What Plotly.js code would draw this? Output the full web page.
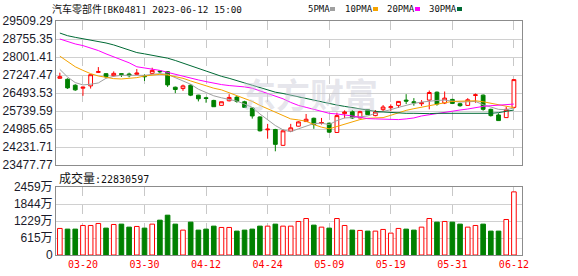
<!DOCTYPE html>
<html><head><meta charset="utf-8">
<script src="https://cdn.plot.ly/plotly-3.0.1.min.js"></script>
<style>html,body{margin:0;padding:0;background:#fff;overflow:hidden}#chart{width:578px;height:276px}</style>
</head><body><div id="chart"></div>
<script>
// ---- data ----
const dates = ['03-15','03-16','03-17','03-20','03-21','03-22','03-23','03-24','03-27','03-28',
  '03-29','03-30','03-31','04-03','04-04','04-06','04-07','04-10','04-11','04-12',
  '04-13','04-14','04-17','04-18','04-19','04-20','04-21','04-24','04-25','04-26',
  '04-27','04-28','05-04','05-05','05-08','05-09','05-10','05-11','05-12','05-15',
  '05-16','05-17','05-18','05-19','05-22','05-23','05-24','05-25','05-26','05-29',
  '05-30','05-31','06-01','06-02','06-05','06-06','06-07','06-08','06-09','06-12'];
const openP  = [27109,27068,26819,26694,26791,27358,27303,27220,27303,27289,
  27275,27206,27317,27413,27386,26736,26680,26819,26404,26293,
  26182,25975,26168,26321,26127,25864,25490,24951,24965,24301,
  24896,25103,25297,25435,25228,25228,24840,25629,25712,25449,
  25795,25546,25795,25878,25975,26196,26127,26044,26196,26528,
  26072,26224,26044,25975,26390,26404,25809,25574,25463,25892];
const highP  = [27344,27109,26860,26763,27261,27579,27317,27400,27317,27344,
  27496,27275,27552,27441,27413,26763,26846,26860,26417,26334,
  26210,26127,26445,26362,26168,25892,25518,25200,24993,24965,
  25200,25311,25615,25463,25449,25255,25670,25767,25781,25753,
  25823,25781,25989,26016,26155,26445,26279,26196,26597,26556,
  26556,26251,26085,26279,26473,26431,25836,25643,25919,27068];
const lowP   = [27095,26666,26583,26376,26680,27330,27109,27178,27164,27151,
  27247,26998,27275,27317,26749,26487,26583,26362,26141,26085,
  25919,25975,26141,26085,25864,25421,24882,24578,24052,24287,
  24868,25089,25283,24993,25172,24827,24827,25435,25408,25435,
  25574,25518,25726,25740,25864,26030,25961,25947,25809,25961,
  26030,26030,25919,25961,26085,25753,25504,25325,25449,25836];
const closeP = [27178,26708,26625,26736,27261,27386,27178,27317,27275,27220,
  27330,27178,27441,27386,26832,26639,26791,26404,26251,26265,
  25919,26127,26307,26141,25892,25532,24910,24979,24342,24910,
  25034,25283,25394,25172,25255,24854,25546,25698,25449,25712,
  25587,25698,25906,25919,26141,26155,26085,26085,26514,26030,
  26279,26058,25961,26210,26417,25809,25546,25338,25809,27054];
const volumeWan = [960,936,936,1068,1068,1140,972,1104,1116,1008,
  1032,972,1116,1260,1440,1116,900,1188,900,936,
  1044,996,996,864,900,936,1044,1044,1116,1044,
  1044,1212,1320,1080,1008,972,1320,1068,900,888,
  864,864,924,792,960,936,900,1008,1320,1188,
  1212,1188,1116,1008,1068,1116,864,864,1284,2283];
const ma5  = [27483,27164,26929,26832,26860,26915,27109,27192,27234,27234,
  27247,27234,27275,27303,27275,27151,26998,26860,26653,26514,
  26376,26293,26238,26155,26030,25892,25615,25366,25131,24951,
  24868,24993,25117,25214,25228,25172,25338,25449,25463,25490,
  25532,25643,25712,25795,25892,25989,26058,26113,26155,26182,
  26196,26168,26113,26127,26141,26002,25919,25809,25795,25864];
const ma10 = [28036,27801,27593,27441,27303,27206,27137,27095,27081,27095,
  27137,27206,27247,27275,27247,27192,27109,26998,26888,26791,
  26694,26625,26500,26376,26251,26141,25975,25836,25698,25560,
  25408,25366,25311,25172,25062,24993,25089,25200,25297,25380,
  25435,25435,25463,25560,25670,25767,25836,25906,25961,26030,
  26085,26141,26155,26168,26168,26127,26058,25989,25933,25878];
const ma20 = [28755,28645,28548,28479,28382,28271,28133,28008,27884,27759,
  27593,27552,27510,27441,27358,27275,27178,27109,27040,26971,
  26902,26846,26805,26791,26749,26694,26583,26487,26390,26251,
  26099,25975,25892,25809,25726,25643,25615,25587,25532,25477,
  25421,25408,25394,25380,25380,25408,25449,25532,25587,25643,
  25684,25753,25781,25823,25892,25933,25961,25975,25989,26030];
const ma30 = [29004,28894,28825,28769,28714,28659,28589,28506,28396,28299,
  28188,28133,28078,28022,27953,27856,27745,27635,27524,27400,
  27289,27192,27109,27026,26915,26819,26722,26611,26528,26473,
  26404,26321,26238,26168,26099,26044,25989,25933,25878,25836,
  25781,25726,25698,25670,25657,25643,25643,25629,25629,25643,
  25643,25615,25615,25615,25643,25643,25643,25670,25726,25781];
const tickDates = ['03-20','03-30','04-12','04-24','05-09','05-19','05-31','06-12'];
const priceTicks = [23477.77,24231.71,24985.65,25739.59,26493.53,27247.47,28001.41,28755.35,29509.29];
const volTickVals = [0,614.75,1229.5,1844.25,2459];
const volTickText = ['0','615万','1229万','1844万','2459万'];
const maNames = ['5PMA','10PMA','20PMA','30PMA'];
const maColors = ['#a0a0a0','#f5a300','#ff00ff','#006a35'];
const titleName = '汽车零部件';
const titleRest = '[BK0481] 2023-06-12 15:00';
const lastVolume = 22830597;

// ---- helpers (pixel -> paper) ----
const L=56, R=522, T=21, B=255;
const X = p => (p-L)/(R-L);
const Y = p => (B-p)/(B-T);

const idx = dates.map((d,i)=>i);
const up = closeP.map((c,i)=>c>=openP[i]);
const tickIdx = tickDates.map(d=>dates.indexOf(d));

const traces = [];
traces.push({
  type:'candlestick', x:idx, open:openP, high:highP, low:lowP, close:closeP,
  xaxis:'x', yaxis:'y', whiskerwidth:0,
  increasing:{line:{color:'#ff0000',width:1}, fillcolor:'#ffffff'},
  decreasing:{line:{color:'#008000',width:1}, fillcolor:'#008000'},
  hoverinfo:'skip', showlegend:false
});
[ma5,ma10,ma20,ma30].forEach((m,k)=>{
  traces.push({type:'scatter', mode:'lines', x:idx, y:m, xaxis:'x', yaxis:'y',
    line:{color:maColors[k], width:1}, hoverinfo:'skip', showlegend:false});
});
traces.push({
  type:'bar', x:idx, y:volumeWan, xaxis:'x2', yaxis:'y2', width:0.6,
  marker:{color:up.map(u=>u?'#ffffff':'#008000'),
          line:{color:up.map(u=>u?'#ff0000':'#008000'), width:1}},
  hoverinfo:'skip', showlegend:false
});

const xr = [-0.5, 60.05];
const common = {showline:true, mirror:true, linecolor:'#8c8c8c', linewidth:1, zeroline:false, fixedrange:true};
const layout = {
  width:578, height:276, margin:{l:L, r:578-R, t:T, b:276-B},
  paper_bgcolor:'#ffffff', plot_bgcolor:'#ffffff', showlegend:false,
  xaxis:Object.assign({}, common, {domain:[0,1], range:xr, anchor:'y', tickvals:tickIdx, showticklabels:false,
    showgrid:true, gridcolor:'#c8c8c8', griddash:'dash', gridwidth:1, ticks:'', rangeslider:{visible:false}}),
  yaxis:Object.assign({}, common, {domain:[Y(165),1], range:[priceTicks[0], priceTicks[priceTicks.length-1]],
    tickvals:priceTicks, ticktext:priceTicks.map(v=>v.toFixed(2)), showgrid:true, gridcolor:'#d0d0d0',
    ticks:'', tickfont:{family:'Liberation Sans, Arial', size:12, color:'#1a1a2a'}}),
  xaxis2:Object.assign({}, common, {domain:[0,1], range:xr, anchor:'y2', tickvals:tickIdx, ticktext:tickDates,
    showgrid:true, gridcolor:'#c8c8c8', griddash:'dash', ticks:'',
    tickfont:{family:'DejaVu Sans Mono, Liberation Mono, monospace', size:10, color:'#ff0000'}}),
  yaxis2:Object.assign({}, common, {domain:[0,Y(187)], range:[0,2459], anchor:'x2',
    tickvals:volTickVals, ticktext:volTickText, showgrid:true, gridcolor:'#d0d0d0', ticks:'',
    tickfont:{family:'Liberation Sans, Arial, Noto Sans CJK SC', size:12, color:'#1a1a2a'}}),
  annotations:[], shapes:[]
};

// watermark
layout.annotations.push({xref:'paper', yref:'paper', x:X(310), y:Y(93), xanchor:'center', yanchor:'middle',
  text:'<b>东方财富</b>', showarrow:false,
  font:{family:'Noto Sans CJK SC', size:34, color:'rgba(200,200,212,0.45)'}});
// title
layout.annotations.push({xref:'paper', yref:'paper', x:X(50), y:Y(9), xanchor:'left', yanchor:'middle',
  text:'<span style="font-family:Noto Sans CJK SC;font-size:10px">'+titleName+'</span>'+titleRest,
  showarrow:false, font:{family:'DejaVu Sans Mono, monospace', size:9.3, color:'#111'}});
// MA legend
const legX = [306,343,385,427], sqX = [330,373,415,457];
maNames.forEach((n,k)=>{
  layout.annotations.push({xref:'paper', yref:'paper', x:X(legX[k]), y:Y(9), xanchor:'left', yanchor:'middle',
    text:n, showarrow:false, font:{family:'DejaVu Sans Mono, monospace', size:9, color:'#111'}});
  layout.shapes.push({type:'rect', xref:'paper', yref:'paper', x0:X(sqX[k]), x1:X(sqX[k]+5), y0:Y(11), y1:Y(7),
    fillcolor:maColors[k], line:{width:0}});
});
// volume label
layout.annotations.push({xref:'paper', yref:'paper', x:X(57), y:Y(177), xanchor:'left', yanchor:'middle',
  text:'<span style="font-family:Noto Sans CJK SC;font-size:12px">成交量</span>:'+lastVolume,
  showarrow:false, font:{family:'DejaVu Sans Mono, monospace', size:10, color:'#111'}});

Plotly.newPlot('chart', traces, layout, {staticPlot:true, displayModeBar:false});
</script></body></html>
